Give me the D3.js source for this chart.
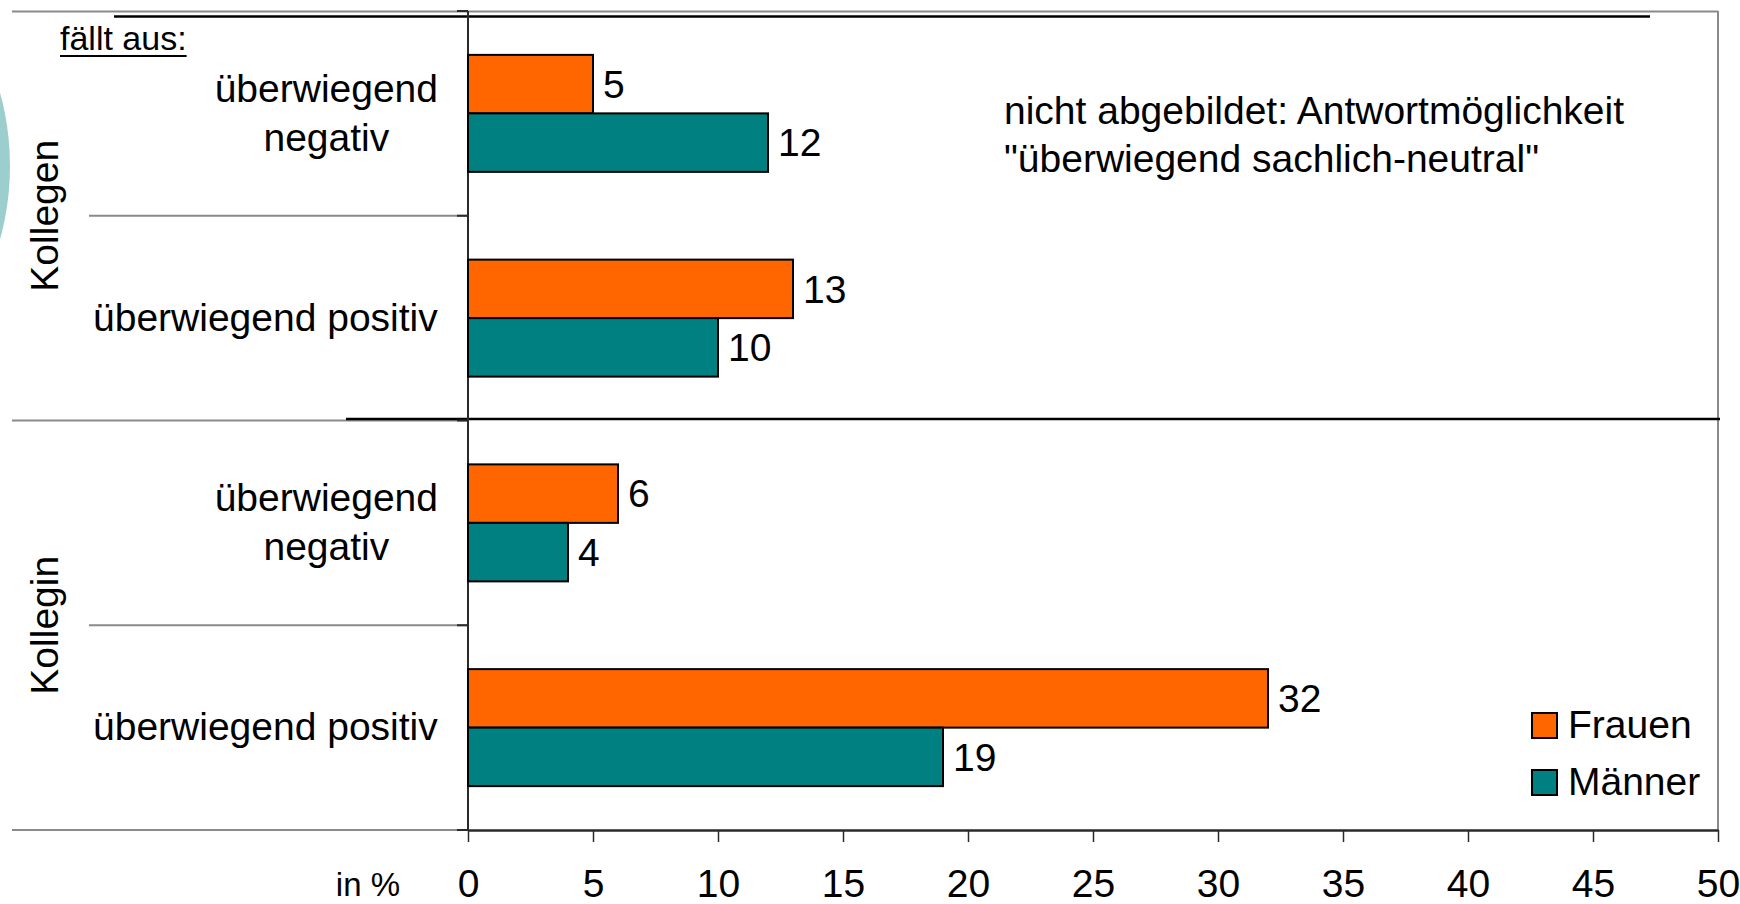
<!DOCTYPE html>
<html><head><meta charset="utf-8">
<script src="https://cdn.jsdelivr.net/npm/d3@7"></script>
<style>
body{margin:0;background:#fff}
svg{display:block}
text{font-family:"Liberation Sans",Arial,Helvetica,sans-serif;fill:#000}
</style>
</head><body>
<svg id="c" width="1740" height="904"></svg>
<script>
// ---- data ----
const groups = ["Kollegen", "Kollegin"];
const categories = ["überwiegend negativ", "überwiegend positiv"];
const categoryLines = [["überwiegend", "negativ"], ["überwiegend positiv"]];
const series = ["Frauen", "Männer"];
const frauen = [5, 13, 6, 32];
const maenner = [12, 10, 4, 19];
const tickValues = [0, 5, 10, 15, 20, 25, 30, 35, 40, 45, 50];
const seriesColors = ["#FF6600", "#008080"];
const noteLines = ["nicht abgebildet: Antwortmöglichkeit", "\"überwiegend sachlich-neutral\""];
const headerText = "fällt aus:";
const unitText = "in %";

// ---- layout ----
const W = 1740, H = 904;
const plot = {left: 468, right: 1718, top: 11, bottom: 830};
const FS = 39;
const svg = d3.select("#c");

const rows = [];
groups.forEach((g) => categories.forEach((c, ci) => rows.push({key: g + "|" + c, group: g, ci, i: rows.length})));
const values = [frauen, maenner];

const x = d3.scaleLinear().domain([0, 50]).range([plot.left, plot.right]);
const y = d3.scaleBand().domain(rows.map(r => r.key)).range([plot.top, plot.bottom]);
const ys = d3.scaleBand().domain(series).range([0, y.bandwidth()]).paddingInner(0).paddingOuter(0.75);

// decorative circle at left edge
svg.append("circle").attr("cx", -265).attr("cy", 166).attr("r", 275).attr("fill", "#9CCECE");

// frame lines
const gray = "#8a8a8a", dark = "#2a2a2a";
svg.append("line").attr("x1", 12).attr("x2", plot.right).attr("y1", plot.top + 0.5).attr("y2", plot.top + 0.5).attr("stroke", gray).attr("stroke-width", 2);
svg.append("line").attr("x1", 114).attr("x2", 1650).attr("y1", 16.5).attr("y2", 16.5).attr("stroke", "#000").attr("stroke-width", 2.5);
svg.append("line").attr("x1", plot.right).attr("x2", plot.right).attr("y1", plot.top).attr("y2", plot.bottom).attr("stroke", gray).attr("stroke-width", 2);

// group separators & category separators
groups.forEach((g, gi) => {
  const gr = rows.filter(r => r.group === g);
  const gBottom = y(gr[gr.length - 1].key) + y.bandwidth();
  svg.append("line").attr("x1", 12).attr("x2", plot.left).attr("y1", gBottom).attr("y2", gBottom).attr("stroke", gray).attr("stroke-width", 2);
  gr.slice(0, -1).forEach(r => {
    const yy = y(r.key) + y.bandwidth();
    svg.append("line").attr("x1", 89).attr("x2", plot.left).attr("y1", yy).attr("y2", yy).attr("stroke", gray).attr("stroke-width", 2);
  });
  if (gi < groups.length - 1) {
    svg.append("line").attr("x1", 346).attr("x2", plot.right + 2).attr("y1", gBottom - 1.5).attr("y2", gBottom - 1.5).attr("stroke", "#000").attr("stroke-width", 2.5);
  }
  // group label
  const yMid = (y(gr[0].key) + gBottom) / 2;
  svg.append("text").attr("transform", `translate(58,${yMid}) rotate(-90)`).attr("text-anchor", "middle").attr("font-size", FS).text(g);
});

// y axis line and ticks at band boundaries
svg.append("line").attr("x1", plot.left).attr("x2", plot.left).attr("y1", plot.top).attr("y2", plot.bottom).attr("stroke", dark).attr("stroke-width", 2);
const bounds = rows.map(r => y(r.key)).concat([plot.bottom]);
svg.selectAll(".ytick").data(bounds).enter().append("line")
  .attr("x1", plot.left - 11).attr("x2", plot.left).attr("y1", d => d).attr("y2", d => d).attr("stroke", dark).attr("stroke-width", 2);

// x axis
const xa = svg.append("g").attr("transform", `translate(0,${plot.bottom})`)
  .call(d3.axisBottom(x).tickValues(tickValues).tickSize(12).tickSizeOuter(0).tickPadding(27));
xa.attr("font-size", FS);
xa.select(".domain").attr("stroke", dark).attr("stroke-width", 2.5);
xa.selectAll(".tick line").attr("stroke", dark).attr("stroke-width", 1.5);
xa.selectAll(".tick text").attr("fill", "#000");

svg.append("text").attr("x", 400).attr("y", 896).attr("text-anchor", "end").attr("font-size", 33).text(unitText);

// bars
series.forEach((s, si) => {
  svg.selectAll(".bar" + si).data(rows).enter().append("rect")
    .attr("x", x(0)).attr("y", r => y(r.key) + ys(s))
    .attr("width", r => x(values[si][r.i]) - x(0)).attr("height", ys.bandwidth())
    .attr("fill", seriesColors[si]).attr("stroke", "#000").attr("stroke-width", 2);
  svg.selectAll(".lab" + si).data(rows).enter().append("text")
    .attr("x", r => x(values[si][r.i]) + 10).attr("y", r => y(r.key) + ys(s) + ys.bandwidth() / 2)
    .attr("dy", "0.35em").attr("font-size", FS).text(r => values[si][r.i]);
});

// category labels (centered block, right edge 30px left of axis)
rows.forEach(r => {
  const lines = categoryLines[r.ci];
  const cy = y(r.key) + y.bandwidth() / 2;
  const t = svg.append("text").attr("font-size", FS).attr("text-anchor", "middle");
  const lh = 49;
  lines.forEach((l, li) => {
    t.append("tspan").attr("x", 0).attr("y", cy + (li - (lines.length - 1) / 2) * lh).attr("dy", "0.33em").text(l);
  });
  const w = t.node().getBBox().width;
  t.selectAll("tspan").attr("x", plot.left - 30 - w / 2);
});

// header "fällt aus:" underlined
const ht = svg.append("text").attr("x", 60).attr("y", 50).attr("font-size", 34).text(headerText);
const hw = ht.node().getComputedTextLength();
svg.append("line").attr("x1", 60).attr("x2", 60 + hw).attr("y1", 56).attr("y2", 56).attr("stroke", "#000").attr("stroke-width", 2);

// note
const nt = svg.append("text").attr("font-size", FS);
noteLines.forEach((l, li) => nt.append("tspan").attr("x", 1004).attr("y", 124 + li * 48).text(l));

// legend
const leg = svg.append("g").attr("transform", "translate(1532,713)");
series.forEach((s, si) => {
  const g = leg.append("g").attr("transform", `translate(0,${si * 57})`);
  g.append("rect").attr("width", 25).attr("height", 25).attr("fill", seriesColors[si]).attr("stroke", "#000").attr("stroke-width", 2);
  g.append("text").attr("x", 36).attr("y", 25).attr("font-size", FS).text(s);
});
</script>
</body></html>
